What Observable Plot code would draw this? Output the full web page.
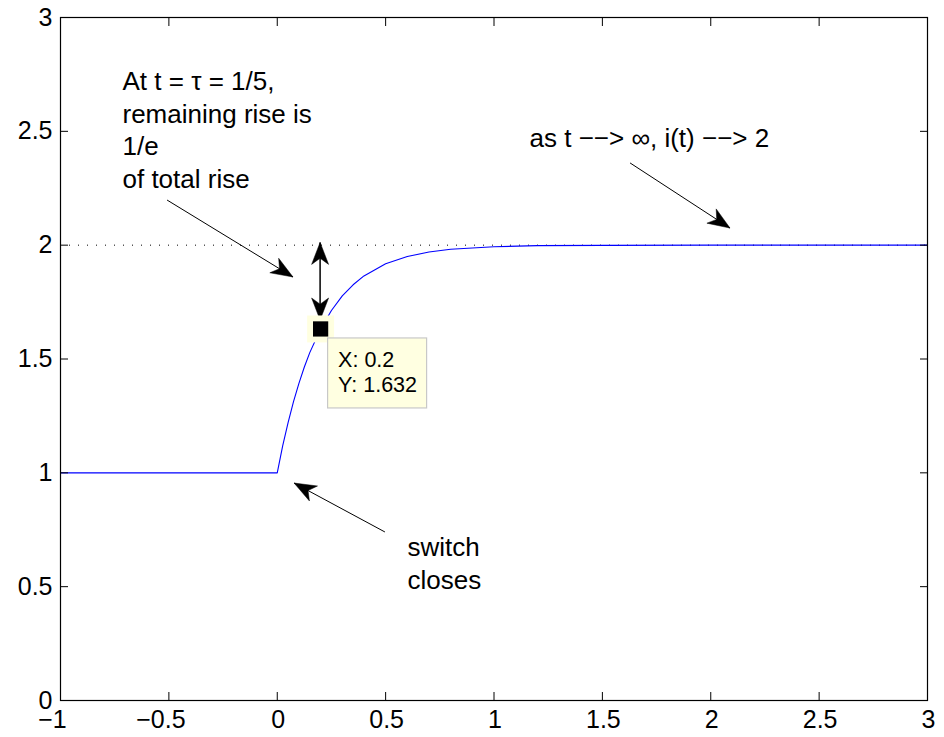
<!DOCTYPE html>
<html><head><meta charset="utf-8">
<script src="https://cdn.jsdelivr.net/npm/d3@7"></script>
<script src="https://cdn.jsdelivr.net/npm/@observablehq/plot@0.6"></script>
<style>
body{margin:0;background:#fff;}
#chart svg{display:block;font-family:"Liberation Sans",Arial,Helvetica,sans-serif;}
</style></head><body><div id="chart"></div>
<script>
// Data
const timeS   = [-1, 0, 0.025, 0.05, 0.075, 0.1, 0.125, 0.15, 0.2, 0.25, 0.3, 0.35, 0.4, 0.5, 0.6, 0.7, 0.8, 1.0, 1.2, 1.5, 2, 2.5, 3];
const current = [1, 1, 1.118, 1.221, 1.313, 1.393, 1.465, 1.528, 1.632, 1.713, 1.777, 1.826, 1.865, 1.918, 1.950, 1.970, 1.982, 1.993, 1.998, 1.999, 2, 2, 2];
const finalValue = [2];

const xTicks = [-1, -0.5, 0, 0.5, 1, 1.5, 2, 2.5, 3];
const xTickText = ["−1", "−0.5", "0", "0.5", "1", "1.5", "2", "2.5", "3"];
const yTicks = [0, 0.5, 1, 1.5, 2, 2.5, 3];
const yTickText = ["0", "0.5", "1", "1.5", "2", "2.5", "3"];

const tipX = [0.2];
const tipY = [1.632];
const tipText = ["X: 0.2", "Y: 1.632"];

const noteText = ["At t = τ = 1/5,\nremaining rise is\n1/e\nof total rise", "as t −−> ∞, i(t) −−> 2", "switch\ncloses"];
const noteX = [-0.714, 1.164, 0.601];
const noteY = [2.784, 2.534, 0.736];

const arrowX1 = [-0.506, 0.499, 1.630, 0.2];
const arrowY1 = [2.196, 0.738, 2.359, 1.669];
const arrowX2 = [0.075, 0.080, 2.091, 0.2];
const arrowY2 = [1.858, 0.953, 2.073, 2.010];
const arrowBoth = [false, false, false, true];

const curve = timeS.map((t, i) => ({t, i: current[i]}));
const tipData = tipX.map((x, i) => ({x, y: tipY[i]}));
const notes = noteText.map((s, i) => ({s, x: noteX[i], y: noteY[i]}));
const xLab = new Map(xTicks.map((d, i) => [d, xTickText[i]]));
const yLab = new Map(yTicks.map((d, i) => [d, yTickText[i]]));

function head(g, x1, y1, x2, y2) {
  const L = 22, W = 8.5, N = 0.72 * L;
  const dx = x2 - x1, dy = y2 - y1, d = Math.hypot(dx, dy);
  const ux = dx / d, uy = dy / d, px = -uy, py = ux;
  const bx = x2 - ux * L, by = y2 - uy * L;
  g.append("path")
    .attr("d", `M${x2},${y2}L${bx + px * W},${by + py * W}L${x2 - ux * N},${y2 - uy * N}L${bx - px * W},${by - py * W}Z`)
    .attr("fill", "black").attr("stroke", "black").attr("stroke-width", 0.5);
}

function arrowMark(index, {x, y}) {
  const g = d3.create("svg:g").attr("aria-label", "arrows");
  arrowX1.forEach((_, i) => {
    const x1 = x(arrowX1[i]), y1 = y(arrowY1[i]), x2 = x(arrowX2[i]), y2 = y(arrowY2[i]);
    g.append("line").attr("x1", x1).attr("y1", y1).attr("x2", x2).attr("y2", y2)
      .attr("stroke", "black").attr("stroke-width", arrowBoth[i] ? 1.5 : 1);
    head(g, x1, y1, x2, y2);
    if (arrowBoth[i]) head(g, x2, y2, x1, y1);
  });
  return g.node();
}

function tipBox(index, {x, y}) {
  const g = d3.create("svg:g").attr("aria-label", "datatip");
  tipData.forEach(d => {
    const cx = x(d.x), cy = y(d.y);
    g.append("rect").attr("x", cx + 7.5).attr("y", cy + 9.5).attr("width", 99).attr("height", 70)
      .attr("fill", "#ffffe1").attr("stroke", "#c8c8c8").attr("stroke-width", 1.2);
    tipText.forEach((t, k) => {
      g.append("text").attr("x", cx + 18).attr("y", cy + 39 + k * 25)
        .attr("text-anchor", "start").attr("font-size", 21.5).attr("fill", "black").text(t);
    });
  });
  return g.node();
}

const chart = Plot.plot({
  width: 944, height: 737,
  marginLeft: 60, marginRight: 17, marginTop: 17, marginBottom: 37,
  x: {domain: [-1, 3]},
  y: {domain: [0, 3]},
  style: {background: "white", color: "black"},
  marks: [
    Plot.ruleY(finalValue, {stroke: "black", strokeWidth: 1, strokeDasharray: "1,8"}),
    Plot.line(curve, {x: "t", y: "i", stroke: "#0000ff", strokeWidth: 1.1}),
    Plot.frame({stroke: "black", strokeWidth: 1.2}),
    Plot.axisX(xTicks, {anchor: "bottom", tickSize: -8, tickFormat: () => "", label: null}),
    Plot.axisX(xTicks, {anchor: "top", tickSize: -8, tickFormat: () => "", label: null}),
    Plot.axisY(yTicks, {anchor: "left", tickSize: -8, tickFormat: () => "", label: null}),
    Plot.axisY(yTicks, {anchor: "right", tickSize: -8, tickFormat: () => "", label: null}),
    Plot.axisX(xTicks.filter(d => d < 0), {anchor: "bottom", tickSize: 0, tickPadding: 10, fontSize: 25, dx: -8, tickFormat: d => xLab.get(d), label: null}),
    Plot.axisX(xTicks.filter(d => d >= 0), {anchor: "bottom", tickSize: 0, tickPadding: 10, fontSize: 25, dx: 1, tickFormat: d => xLab.get(d), label: null}),
    Plot.axisY(yTicks, {anchor: "left", tickSize: 0, tickPadding: 8, fontSize: 25, dy: 0, tickFormat: d => yLab.get(d), label: null}),
    Plot.text(notes, {x: "x", y: "y", text: "s", textAnchor: "start", lineAnchor: "top", fontSize: 26, lineHeight: 1.26, fill: "black", ariaLabel: "note"}),
    arrowMark,
    Plot.dot(tipData, {x: "x", y: "y", symbol: "square", r: 15.2, fill: "#ffffe0", stroke: null}),
    Plot.dot(tipData, {x: "x", y: "y", symbol: "square", r: 8.6, fill: "black", stroke: null}),
    tipBox
  ]
});
document.getElementById("chart").appendChild(chart);
</script></body></html>
